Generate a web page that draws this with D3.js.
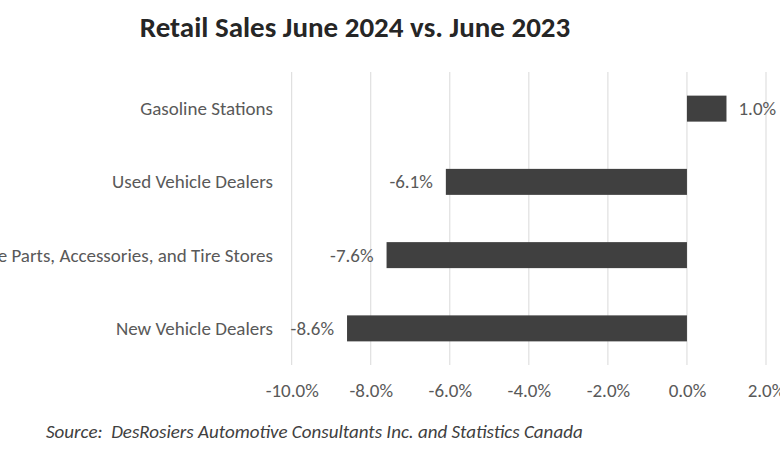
<!DOCTYPE html>
<html><head><meta charset="utf-8">
<script src="https://cdn.jsdelivr.net/npm/d3@7"></script>
<style>
body{margin:0;background:#fff;}
text{font-family:Carlito, Lato, "Open Sans", sans-serif;}
</style></head>
<body><svg id="c" width="780" height="455"></svg>
<script>
const categories = ["Gasoline Stations","Used Vehicle Dealers","Vehicle Parts, Accessories, and Tire Stores","New Vehicle Dealers"];
const values = [1.0, -6.1, -7.6, -8.6];
const tickValues = [-10, -8, -6, -4, -2, 0, 2];
const title = "Retail Sales June 2024 vs. June 2023";
const source = "Source:  DesRosiers Automotive Consultants Inc. and Statistics Canada";

const FS = 19;
const svg = d3.select("#c");
const x = d3.scaleLinear().domain([-10, 2]).range([291.7, 766]);
const y = d3.scaleBand().domain(categories).range([72, 365]).paddingInner(0.645).paddingOuter(0.3225);

const t = svg.append("text").attr("x", 355).attr("y", 37).attr("text-anchor","middle")
  .attr("font-size", 29).attr("font-weight","bold").attr("fill","#262626").text(title);

const xAxis = d3.axisBottom(x).tickValues(tickValues).tickSize(0).tickFormat(d => d.toFixed(1) + "%");
const gx = svg.append("g").attr("transform","translate(0,365)").call(xAxis);
gx.select(".domain").remove();
gx.selectAll("text").attr("dy", 0).attr("y", 32).attr("font-size", FS).attr("fill","#595959")
  .style("font-family","Carlito, Lato, 'Open Sans', sans-serif");

svg.append("g").selectAll("line").data(tickValues).join("line")
  .attr("x1", d => x(d)).attr("x2", d => x(d)).attr("y1", 72).attr("y2", 365)
  .attr("stroke","#d9d9d9").attr("stroke-width",1);

svg.append("g").selectAll("rect").data(values).join("rect")
  .attr("x", d => x(Math.min(0,d))).attr("width", d => Math.abs(x(d)-x(0)))
  .attr("y", (d,i) => y(categories[i])).attr("height", y.bandwidth())
  .attr("fill","#404040");

svg.append("g").selectAll("text").data(values).join("text")
  .attr("x", d => d < 0 ? x(d) - 13 : x(d) + 12)
  .attr("y", (d,i) => y(categories[i]) + y.bandwidth()/2 + 6.5)
  .attr("text-anchor", d => d < 0 ? "end" : "start")
  .attr("font-size", FS).attr("fill","#595959")
  .text(d => d.toFixed(1) + "%");

svg.append("g").selectAll("text").data(categories).join("text")
  .attr("x", 273).attr("y", d => y(d) + y.bandwidth()/2 + 6.5)
  .attr("text-anchor","end").attr("font-size", FS).attr("fill","#595959").text(d => d);

svg.append("text").attr("x", 46).attr("y", 438).attr("font-size", FS)
  .attr("font-style","italic").attr("fill","#404040").style("white-space","pre").text(source);
</script></body></html>
